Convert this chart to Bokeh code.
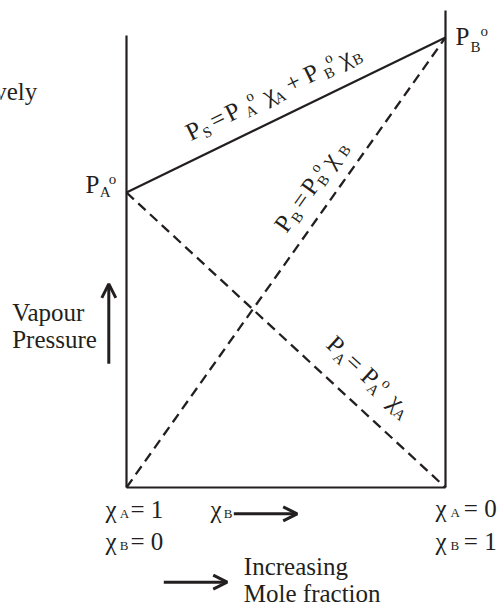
import math
from bokeh.plotting import figure
from bokeh.models import ColumnDataSource, Arrow, OpenHead
from bokeh.core.properties import value
from bokeh.embed import file_html
from bokeh.resources import INLINE

# ---- data -------------------------------------------------------------
x_B = [0.0, 1.0]              # mole fraction of B (left: pure A, right: pure B)
P_A0 = 59.0                   # vapour pressure of pure A
P_B0 = 90.0                   # vapour pressure of pure B
P_A = [P_A0, 0.0]             # partial pressure of A
P_B = [0.0, P_B0]             # partial pressure of B
P_S = [P_A0, P_B0]            # total vapour pressure
LEFT_TOP = 90.4               # height of the left vertical frame line
RIGHT_TOP = 95.4              # height of the right vertical frame line

# ---- figure -----------------------------------------------------------
W, H = 498, 603
X0, X1 = -0.394984, 1.166144
Y0, Y1 = -23.2, 97.4
PX_X = W / (X1 - X0)
PX_Y = H / (Y1 - Y0)
INK = "#231f20"
FONT = value("Liberation Serif")
MAIN, SUB = 25, 15
K = 0.36   # baseline correction (fraction of font size)

p = figure(width=W, height=H, x_range=(X0, X1), y_range=(Y0, Y1),
           output_backend="svg", toolbar_location=None, min_border=0,
           x_axis_type=None, y_axis_type=None, outline_line_color=None,
           background_fill_color="white", border_fill_color="white")

# frame lines
p.line([x_B[0], x_B[0]], [0, LEFT_TOP], line_color=INK, line_width=2.2)
p.line([x_B[1], x_B[1]], [0, RIGHT_TOP], line_color=INK, line_width=2.2)
p.line(x_B, [0, 0], line_color=INK, line_width=2.2)

# pressure lines
p.line(x_B, P_S, line_color=INK, line_width=2.2)
p.line(x_B, P_A, line_color=INK, line_width=2.3, line_dash="10 6")
p.line(x_B, P_B, line_color=INK, line_width=2.3, line_dash="10 6")


def texts(xs, ys, txt, xo, yo, sizes, angle=0.0, align="left"):
    yo = [v - K * s for v, s in zip(yo, sizes)]
    src = ColumnDataSource(dict(x=xs, y=ys, text=txt, xo=xo, yo=yo,
                                size=["%gpx" % s for s in sizes]))
    p.text(x="x", y="y", text="text", x_offset="xo", y_offset="yo",
           text_font_size="size", source=src, text_font=FONT,
           angle=angle, text_align=align, text_baseline="alphabetic",
           text_color=INK)


def rot_label(xa, ya, theta, s0, pieces):
    c, s_ = math.cos(theta), math.sin(theta)
    xs, ys, tx, xo, yo, sz = [], [], [], [], [], []
    for t, d, sh, size in pieces:
        s = s0 + sh + K * size
        xs.append(xa); ys.append(ya); tx.append(t); sz.append(size)
        xo.append(d * c - s * s_)
        yo.append(-d * s_ - s * c)
    src = ColumnDataSource(dict(x=xs, y=ys, text=tx, xo=xo, yo=yo,
                                size=["%gpx" % s for s in sz]))
    p.text(x="x", y="y", text="text", x_offset="xo", y_offset="yo",
           text_font_size="size", source=src, text_font=FONT,
           angle=theta, text_align="center", text_baseline="alphabetic",
           text_color=INK)


SUBSH, SUPSH = -4, 10

# P_S label along the solid line
th_s = math.atan2((P_S[1] - P_S[0]) * PX_Y, (x_B[1] - x_B[0]) * PX_X)
ta = 0.2265
rot_label(ta, P_S[0] + ta * (P_S[1] - P_S[0]), th_s, 17.5, [
    ("P", 6.8, 0, MAIN), ("S", 18.6, SUBSH, SUB), ("=", 33.7, 0, MAIN),
    ("P", 50.3, 0, MAIN), ("A", 67.5, SUBSH, SUB), ("o", 72.3, SUPSH, SUB),
    ("χ", 90.4, 0, MAIN), ("A", 99.8, SUBSH, SUB), ("+", 117.4, 0, MAIN),
    ("P", 137.7, 0, MAIN), ("B", 154.4, SUBSH, SUB), ("o", 160.0, SUPSH, SUB),
    ("χ", 174.7, 0, MAIN), ("B", 186.0, SUBSH, SUB)])

# P_B label along the rising dashed line
th_b = math.atan2((P_B[1] - P_B[0]) * PX_Y, (x_B[1] - x_B[0]) * PX_X)
tb = 0.4953
rot_label(tb, P_B[0] + tb * (P_B[1] - P_B[0]), th_b, 15.5, [
    ("P", 33.1, 0, MAIN), ("B", 45.9, SUBSH, SUB), ("=", 61.7, 0, MAIN),
    ("P", 78.7, 0, MAIN), ("B", 91.1, SUBSH, SUB), ("o", 97.0, SUPSH, SUB),
    ("χ", 111.2, 0, MAIN), ("B", 127.6, SUBSH, SUB)])

# P_A label along the falling dashed line
th_a = math.atan2((P_A[1] - P_A[0]) * PX_Y, (x_B[1] - x_B[0]) * PX_X)
tc = 0.6583
rot_label(tc, P_A[0] + tc * (P_A[1] - P_A[0]), th_a, 21.3, [
    ("P", -29.0, 0, MAIN), ("A", -17.1, SUBSH, SUB), ("=", -3.3, 0, MAIN),
    ("P", 17.9, 0, MAIN), ("A", 28.8, SUBSH, SUB), ("o", 34.8, SUPSH, SUB),
    ("χ", 54.3, 0, MAIN), ("A", 65.1, SUBSH, SUB)])

# end-point labels P_A° and P_B°
texts([x_B[0]] * 3, [P_A0] * 3, ["P", "A", "o"], [-41, -26.7, -17.7], [1, 5.3, -8],
      [MAIN, SUB, SUB])
texts([x_B[1]] * 3, [P_B0] * 3, ["P", "B", "o"], [10, 25, 35], [8, 14.7, -1],
      [MAIN, SUB, SUB])

# bottom labels
texts([x_B[0]] * 8, [0] * 8,
      ["χ", "A", "= 1", "χ", "B", "= 0", "χ", "B"],
      [-21, -6.7, 4, -21, -6.7, 4, 84, 97.3],
      [31, 31, 31, 63, 63, 63, 31, 31],
      [MAIN, 13, MAIN, MAIN, 13, MAIN, MAIN, 13])
texts([x_B[1]] * 6, [0] * 6,
      ["χ", "A", "= 0", "χ", "B", "= 1"],
      [-10, 5, 18.3, -10, 5, 18.3],
      [30, 30, 30, 63, 63, 63],
      [MAIN, 13, MAIN, MAIN, 13, MAIN])

# free text
texts([x_B[0]] * 4, [0] * 4,
      ["Vapour", "Pressure", "Increasing", "Mole fraction"],
      [-114.3, -114.3, 117.3, 117.3],
      [-166.3, -139, 88, 115],
      [MAIN] * 4)
texts([x_B[0]], [0], ["respectively"], [-89.3], [-387], [MAIN], align="right")

# arrows
head = dict(size=14, line_width=3, line_color=INK)
p.add_layout(Arrow(end=OpenHead(**head), x_start=-0.0555, y_start=24.74,
                   x_end=-0.0555, y_end=40.74, line_width=3, line_color=INK))
p.add_layout(Arrow(end=OpenHead(**head), x_start=0.3364, y_start=-5.26,
                   x_end=0.5351, y_end=-5.26, line_width=3, line_color=INK))
p.add_layout(Arrow(end=OpenHead(**head), x_start=0.1169, y_start=-18.94,
                   x_end=0.3157, y_end=-18.94, line_width=3, line_color=INK))

open("out.html", "w").write(file_html(p, INLINE))
